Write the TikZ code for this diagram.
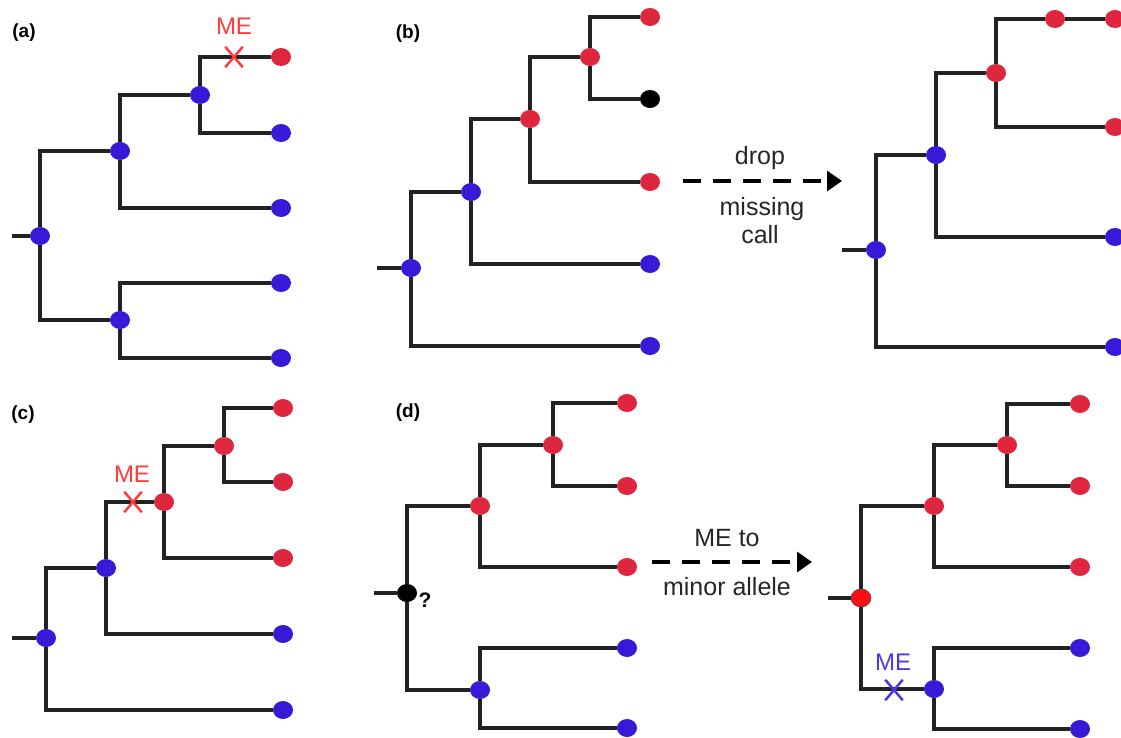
\documentclass[tikz,border=0pt]{standalone}
\usepackage{fontspec}
\setmainfont{Liberation Sans}
\usetikzlibrary{shapes.geometric,shapes.misc,arrows.meta}
\definecolor{nblue}{RGB}{55,25,215}
\definecolor{nred}{RGB}{222,38,62}
\definecolor{bred}{RGB}{250,15,20}
\definecolor{mered}{RGB}{255,60,60}
\definecolor{meblue}{RGB}{75,55,230}
\definecolor{edgecol}{RGB}{34,34,34}
\begin{document}
\begin{tikzpicture}[x=1pt,y=-1pt,
  nd/.style={ellipse,inner sep=0pt,minimum width=20pt,minimum height=18pt},
  bl/.style={nd,fill=nblue},
  rd/.style={nd,fill=nred},
  bk/.style={nd,fill=black},
  rr/.style={nd,fill=bred,draw=black!70,line width=0.6pt},
  br/.style={draw=edgecol,line width=3.2pt},
  xr/.style={cross out,draw=mered,line width=2.5pt,minimum width=15pt,minimum height=18pt,inner sep=0pt},
  xb/.style={cross out,draw=meblue,line width=2.5pt,minimum width=15pt,minimum height=18pt,inner sep=0pt},
  metxt/.style={anchor=base,inner sep=0pt,font=\fontsize{24}{28}\selectfont},
  lab/.style={anchor=base,inner sep=0pt,font=\fontsize{19}{23}\selectfont\bfseries},
  atxt/.style={anchor=base,inner sep=0pt,text=black!85,font=\fontsize{25}{30}\selectfont},
  darr/.style={draw=black,line width=3.2pt,dash pattern=on 18pt off 12pt,-{Triangle[length=15pt,width=20pt]}}
]
\useasboundingbox (0,0) rectangle (1121,738);

% ---------- (a)
\node[lab] (la) at (24,38) {(a)};
\coordinate (a0) at (12,236);
\node[bl] (ar) at (40,236) {};
\node[bl] (a1) at (120,151) {};
\node[bl] (a2) at (200,95) {};
\node[bl] (a3) at (120,320) {};
\node[rd] (al1) at (281,57) {};
\node[bl] (al2) at (281,133) {};
\node[bl] (al3) at (281,208) {};
\node[bl] (al4) at (281,283) {};
\node[bl] (al5) at (281,358) {};
\draw[br] (a0) -- (ar);
\draw[br] (ar) |- (a1);
\draw[br] (ar) |- (a3);
\draw[br] (a1) |- (a2);
\draw[br] (a1) |- (al3);
\draw[br] (a2) |- (al1);
\draw[br] (a2) |- (al2);
\draw[br] (a3) |- (al4);
\draw[br] (a3) |- (al5);
\node[xr] (ax) at (234,57) {};
\node[metxt,text=mered] (ame) at (234,35) {ME};

% ---------- (b) left
\node[lab] (lb) at (408,39) {(b)};
\coordinate (b0) at (377,268);
\node[bl] (br0) at (411,268) {};
\node[bl] (b1) at (471,192) {};
\node[rd] (b2) at (530,119) {};
\node[rd] (b3) at (590,57) {};
\node[rd] (bl1) at (650,17) {};
\node[bk] (bl2) at (650,99) {};
\node[rd] (bl3) at (650,182) {};
\node[bl] (bl4) at (650,264) {};
\node[bl] (bl5) at (650,346) {};
\draw[br] (b0) -- (br0);
\draw[br] (br0) |- (b1);
\draw[br] (br0) |- (bl5);
\draw[br] (b1) |- (b2);
\draw[br] (b1) |- (bl4);
\draw[br] (b2) |- (b3);
\draw[br] (b2) |- (bl3);
\draw[br] (b3) |- (bl1);
\draw[br] (b3) |- (bl2);

% arrow (b)
\coordinate (ab0) at (683,181);
\coordinate (ab1) at (842,181);
\draw[darr] (ab0) -- (ab1);
\node[atxt] (t1) at (760,165) {drop};
\node[atxt] (t2) at (762,215) {missing};
\node[atxt] (t3) at (760,243) {call};

% ---------- (b) right
\coordinate (c0) at (842,250);
\node[bl] (cr) at (876,250) {};
\node[bl] (c1) at (936,155) {};
\node[rd] (c2) at (996,73) {};
\node[rd] (cm) at (1055,19) {};
\node[rd] (cl1) at (1115,19) {};
\node[rd] (cl2) at (1115,127) {};
\node[bl] (cl3) at (1115,237) {};
\node[bl] (cl4) at (1115,347) {};
\draw[br] (c0) -- (cr);
\draw[br] (cr) |- (c1);
\draw[br] (cr) |- (cl4);
\draw[br] (c1) |- (c2);
\draw[br] (c1) |- (cl3);
\draw[br] (c2) |- (cm);
\draw[br] (cm) -- (cl1);
\draw[br] (c2) |- (cl2);

% ---------- (c)
\node[lab] (lc) at (23,419) {(c)};
\coordinate (d0) at (12,638);
\node[bl] (dr) at (46,638) {};
\node[bl] (d1) at (106,568) {};
\node[rd] (d2) at (164,502) {};
\node[rd] (d3) at (224,446) {};
\node[rd] (dl1) at (283,408) {};
\node[rd] (dl2) at (283,482) {};
\node[rd] (dl3) at (283,558) {};
\node[bl] (dl4) at (283,634) {};
\node[bl] (dl5) at (283,710) {};
\draw[br] (d0) -- (dr);
\draw[br] (dr) |- (d1);
\draw[br] (dr) |- (dl5);
\draw[br] (d1) |- (d2);
\draw[br] (d1) |- (dl4);
\draw[br] (d2) |- (d3);
\draw[br] (d2) |- (dl3);
\draw[br] (d3) |- (dl1);
\draw[br] (d3) |- (dl2);
\node[xr] (cx) at (133,502) {};
\node[metxt,text=mered] (cme) at (132,482) {ME};

% ---------- (d) left
\node[lab] (ld) at (408,417) {(d)};
\coordinate (e0) at (374,593);
\node[bk] (er) at (407,593) {};
\node[rd] (e1) at (480,506) {};
\node[rd] (e2) at (553,445) {};
\node[bl] (e3) at (480,690) {};
\node[rd] (el1) at (627,403) {};
\node[rd] (el2) at (627,486) {};
\node[rd] (el3) at (627,567) {};
\node[bl] (el4) at (627,648) {};
\node[bl] (el5) at (627,728) {};
\draw[br] (e0) -- (er);
\draw[br] (er) |- (e1);
\draw[br] (er) |- (e3);
\draw[br] (e1) |- (e2);
\draw[br] (e1) |- (el3);
\draw[br] (e2) |- (el1);
\draw[br] (e2) |- (el2);
\draw[br] (e3) |- (el4);
\draw[br] (e3) |- (el5);
\node[anchor=base,inner sep=0pt,font=\fontsize{21}{25}\selectfont\bfseries] (q) at (425,607) {?};

% arrow (d)
\coordinate (ad0) at (652,562);
\coordinate (ad1) at (812,562);
\draw[darr] (ad0) -- (ad1);
\node[atxt] (t4) at (727,546) {ME to};
\node[atxt] (t5) at (727,595) {minor allele};

% ---------- (d) right
\coordinate (f0) at (828,598);
\node[rr] (fr) at (861,598) {};
\node[rd] (f1) at (934,506) {};
\node[rd] (f2) at (1007,445) {};
\node[bl] (f3) at (934,689) {};
\node[rd] (fl1) at (1080,404) {};
\node[rd] (fl2) at (1080,486) {};
\node[rd] (fl3) at (1080,567) {};
\node[bl] (fl4) at (1080,648) {};
\node[bl] (fl5) at (1080,729) {};
\draw[br] (f0) -- (fr);
\draw[br] (fr) |- (f1);
\draw[br] (fr) |- (f3);
\draw[br] (f1) |- (f2);
\draw[br] (f1) |- (fl3);
\draw[br] (f2) |- (fl1);
\draw[br] (f2) |- (fl2);
\draw[br] (f3) |- (fl4);
\draw[br] (f3) |- (fl5);
\node[xb] (fx) at (894,690) {};
\node[metxt,text=meblue] (fme) at (893,670) {ME};
\end{tikzpicture}
\end{document}
